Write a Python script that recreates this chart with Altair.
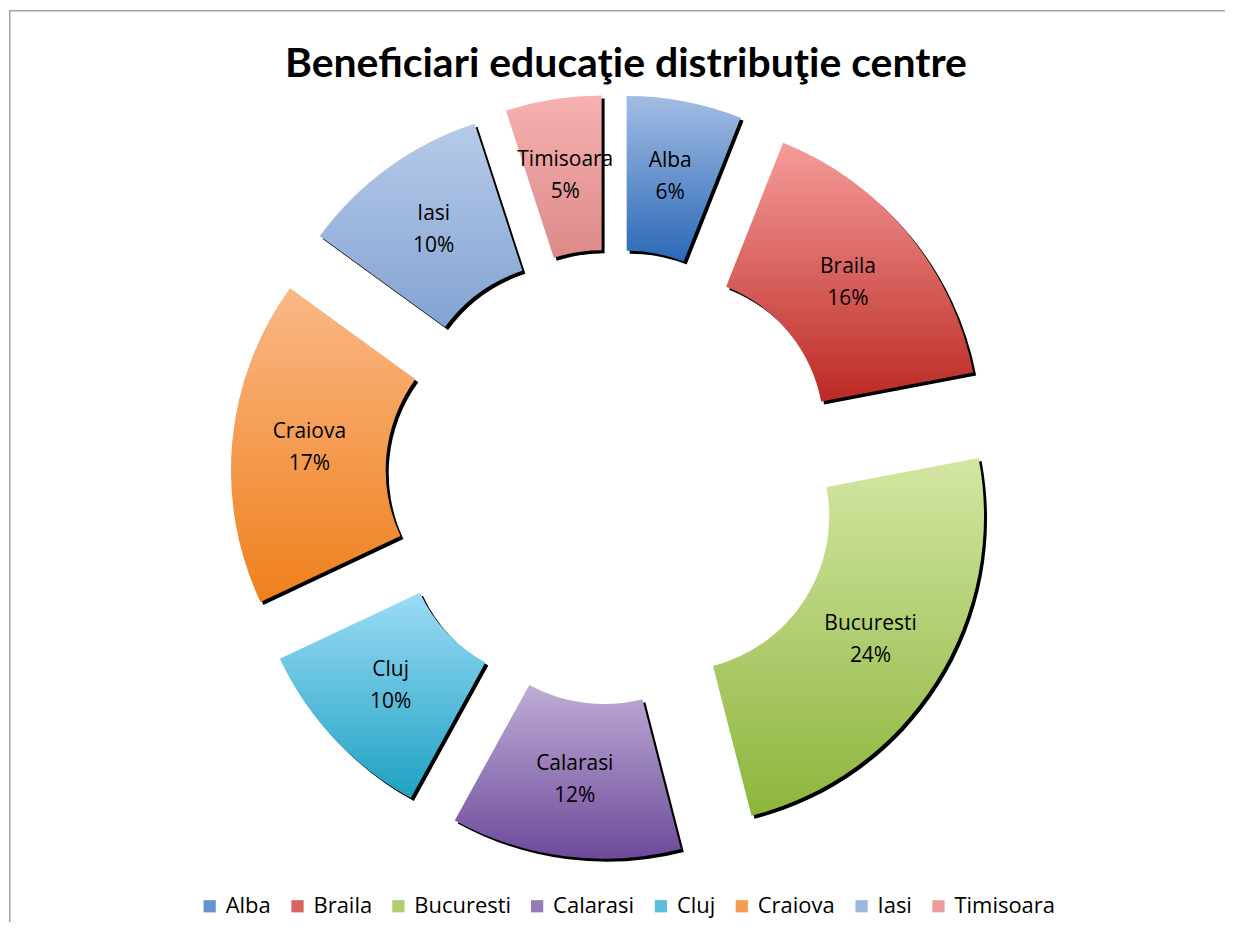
import math
import altair as alt
import pandas as pd

# ---- data ----
names = ["Alba", "Braila", "Bucuresti", "Calarasi", "Cluj", "Craiova", "Iasi", "Timisoara"]
values = [6, 16, 24, 12, 10, 17, 10, 5]
top_colors = ["#A3BDE3", "#F59C9A", "#D3E6A3", "#BFADD6", "#9BDCF6", "#FAB886", "#B6CBE9", "#F6B1B0"]
bottom_colors = ["#2A69B8", "#BC2A24", "#8DB53C", "#6D4A9A", "#1FA1C2", "#EF801C", "#84A2D2", "#DC8A88"]
legend_colors = ["#6693CD", "#D8635F", "#B0CD6F", "#967BB8", "#5DBEDC", "#F49C51", "#9DB6DD", "#E99D9C"]
title_text = "Beneficiari educaţie distribuţie centre"

# ---- layout ----
W, H = 1218, 915
CX, CY = 605, 469
R_OUT, R_IN = 310, 155
EXPLODE = 73
SHADOW = 3
LABEL_R = EXPLODE + (R_OUT + R_IN) / 2
LINE_H = 32

df = pd.DataFrame({"name": names, "value": values, "order": list(range(len(names)))})
df["label"] = df["name"] + "\n" + df["value"].astype(str) + "%"

base = (
    alt.Chart(df)
    .transform_window(cum="sum(value)", sort=[alt.SortField("order")], frame=[None, 0])
    .transform_joinaggregate(total="sum(value)")
    .transform_calculate(s="(datum.cum - datum.value) / datum.total")
    .transform_calculate(e="datum.cum / datum.total")
    .transform_calculate(mid="(datum.s + datum.e) * PI")
    .transform_calculate(px=f"{CX} + {EXPLODE} * sin(datum.mid)")
    .transform_calculate(py=f"{CY} - {EXPLODE} * cos(datum.mid)")
    .transform_calculate(sx=f"datum.px + {SHADOW}")
    .transform_calculate(sy=f"datum.py + {SHADOW}")
    .transform_calculate(lx=f"{CX} + {LABEL_R} * sin(datum.mid)")
    .transform_calculate(ly=f"{CY} - {LABEL_R} * cos(datum.mid)")
)

theta = alt.Theta("s:Q", scale=alt.Scale(domain=[0, 1], range=[0, 2 * math.pi]))
theta2 = alt.Theta2("e:Q")

shadow = base.mark_arc(fill="black", radius=R_OUT, radius2=R_IN).encode(
    x=alt.X("sx:Q", scale=None, axis=None),
    y=alt.Y("sy:Q", scale=None, axis=None),
    theta=theta,
    theta2=theta2,
)

slices = []
for n, tc, bc in zip(names, top_colors, bottom_colors):
    grad = alt.LinearGradient(
        gradient="linear",
        stops=[alt.GradientStop(color=tc, offset=0), alt.GradientStop(color=bc, offset=1)],
        x1=0, x2=0, y1=0, y2=1,
    )
    slices.append(
        base.transform_filter(alt.datum.name == n)
        .mark_arc(fill=grad, radius=R_OUT, radius2=R_IN)
        .encode(
            x=alt.X("px:Q", scale=None, axis=None),
            y=alt.Y("py:Q", scale=None, axis=None),
            theta=theta,
            theta2=theta2,
        )
    )

labels = base.mark_text(
    font="Open Sans", fontSize=21, lineBreak="\n", lineHeight=LINE_H,
    align="center", baseline="middle", color="black", dy=-LINE_H / 2,
).encode(
    x=alt.X("lx:Q", scale=None, axis=None),
    y=alt.Y("ly:Q", scale=None, axis=None),
    text="label:N",
)

legend_layer = (
    alt.Chart(df)
    .transform_filter("false")
    .mark_square(size=100, opacity=1)
    .encode(
        color=alt.Color(
            "name:N",
            scale=alt.Scale(domain=names, range=legend_colors),
            legend=alt.Legend(
                title=None, orient="none", legendX=190, legendY=888,
                direction="horizontal", columns=8, symbolType="square",
                symbolSize=150, symbolStrokeWidth=0, labelFont="Open Sans",
                labelFontSize=22, labelColor="black", labelOffset=5,
                columnPadding=15, padding=0,
            ),
        )
    )
)

frame_df = pd.DataFrame({"k": [0]})
top_rule = alt.Chart(frame_df).mark_rule(color="#A6A6A6", strokeWidth=1.5).encode(
    x=alt.value(0), x2=alt.value(W), y=alt.value(2)
)
left_rule = alt.Chart(frame_df).mark_rule(color="#A6A6A6", strokeWidth=1.5).encode(
    x=alt.value(0.75), y=alt.value(2), y2=alt.value(H)
)

chart = (
    alt.layer(shadow, *slices, labels, legend_layer, top_rule, left_rule)
    .properties(
        width=W, height=H, padding=0,
        title=alt.TitleParams(
            text=title_text, font="Lato", fontSize=41, fontWeight="bold",
            color="black", anchor="middle", offset=-109, baseline="alphabetic", dx=9,
        ),
    )
    .configure_view(strokeWidth=0)
)

chart.save("out.html", embed_options={"renderer": "svg", "actions": False})
